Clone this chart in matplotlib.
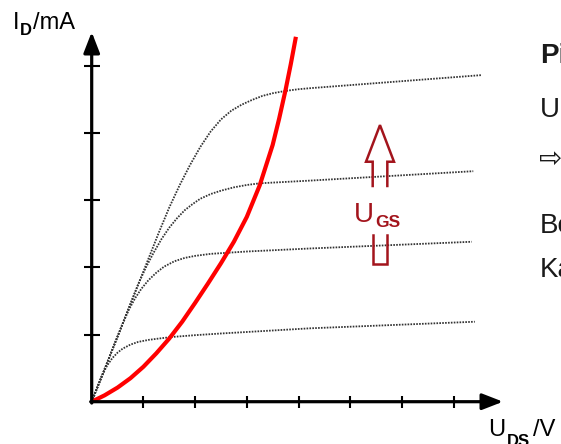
import matplotlib
matplotlib.use("Agg")
import matplotlib.pyplot as plt

plt.rcParams['font.family'] = ['Liberation Sans', 'DejaVu Sans']

# ---- data (axis units = tick steps) ----
x_ticks = [1, 2, 3, 4, 5, 6, 7]
y_ticks = [1, 2, 3, 4, 5]

curve1_x = [0, 1.30, 1.50, 1.70, 1.90, 2.10, 2.30, 2.50, 2.70, 2.90, 3.10, 3.30, 3.50, 3.75, 4.00, 4.25, 7.54]
curve1_y = [0, 2.52, 2.89, 3.22, 3.52, 3.79, 4.02, 4.20, 4.33, 4.42, 4.49, 4.55, 4.59, 4.625, 4.65, 4.667, 4.86]

curve2_x = [0, 0.90, 1.05, 1.20, 1.35, 1.50, 1.65, 1.80, 1.95, 2.10, 2.30, 2.50, 2.75, 3.00, 3.25, 4.22, 7.38]
curve2_y = [0, 1.75, 2.00, 2.22, 2.42, 2.59, 2.73, 2.85, 2.94, 3.02, 3.09, 3.14, 3.19, 3.225, 3.25, 3.29, 3.43]

curve3_x = [0, 0.60, 0.72, 0.84, 0.96, 1.10, 1.25, 1.40, 1.60, 1.80, 2.00, 2.30, 2.60, 3.00, 4.22, 7.35]
curve3_y = [0, 1.16, 1.37, 1.54, 1.68, 1.81, 1.92, 2.01, 2.09, 2.14, 2.17, 2.20, 2.215, 2.235, 2.28, 2.38]

curve4_x = [0, 0.20, 0.30, 0.40, 0.50, 0.60, 0.75, 0.90, 1.10, 1.30, 1.55, 2.00, 2.50, 3.06, 4.22, 7.41]
curve4_y = [0, 0.39, 0.54, 0.65, 0.73, 0.79, 0.85, 0.89, 0.92, 0.94, 0.963, 0.99, 1.015, 1.04, 1.092, 1.19]

red_x = [0, 0.25, 0.50, 0.75, 1.00, 1.25, 1.50, 1.75, 2.00, 2.25, 2.50, 2.75, 3.00, 3.25, 3.50, 3.625, 3.75, 3.85, 3.95]
red_y = [0, 0.095, 0.21, 0.35, 0.52, 0.72, 0.94, 1.19, 1.47, 1.76, 2.06, 2.38, 2.75, 3.22, 3.82, 4.21, 4.64, 5.02, 5.43]

W, H = 561, 444
X0, Y0 = 91.7, 401.7      # origin in pixels
SX, SY = 51.7, 67.2       # pixels per unit

fig = plt.figure(figsize=(W / 100, H / 100), dpi=100)
ax = fig.add_axes([0, 0, 1, 1])
ax.set_xlim(-X0 / SX, (W - X0) / SX)
ax.set_ylim((Y0 - H) / SY, Y0 / SY)
ax.axis('off')

dot_style = dict(color='#333333', lw=1.3, linestyle=(0, (0.9, 0.7)))
for cx, cy in [(curve1_x, curve1_y), (curve2_x, curve2_y),
               (curve3_x, curve3_y), (curve4_x, curve4_y)]:
    ax.plot(cx, cy, **dot_style, zorder=2)

ax.plot(red_x, red_y, color='#FF0000', lw=3.0, solid_capstyle='butt',
        solid_joinstyle='round', zorder=3)

# axes with arrows
x_end = (503 - X0) / SX
y_end = (Y0 - 32) / SY
arrow_kw = dict(arrowstyle='-|>,head_length=0.9,head_width=0.35', color='black',
                lw=2.3, shrinkA=0, shrinkB=0, mutation_scale=14)
ax.annotate('', xy=(x_end, 0), xytext=(-0.02, 0), arrowprops=arrow_kw, zorder=4)
ax.annotate('', xy=(0, y_end), xytext=(0, -0.02), arrowprops=arrow_kw, zorder=4)
ax.plot(x_ticks, [0] * len(x_ticks), linestyle='none', marker='|', ms=9, mew=1.5,
        color='black', zorder=4)
ax.plot([0] * len(y_ticks), y_ticks, linestyle='none', marker='_', ms=11, mew=1.5,
        color='black', zorder=4)


def ptext(px, py, s, size, bold=False, color='black', **kw):
    ax.text(px / W, 1 - py / H, s, transform=ax.transAxes, fontsize=size,
            fontweight='bold' if bold else 'normal', va='baseline', ha='left',
            color=color, **kw)


# axis labels
ptext(13, 29, 'I', 17)
ptext(20, 35, 'D', 12, bold=True)
ptext(33, 29, '/mA', 17)
ptext(488, 436, 'U', 17)
ptext(507, 446, 'DS', 12, bold=True)
ptext(533, 436, '/V', 17)

# U_GS outline arrow
dred = '#A3141C'
tip = (5.576, 4.116)
hb = 3.571
hl, hr = 5.306, 5.847
sl, sr = 5.435, 5.718
s_bot = 3.21
ax.plot([sl, sl, hl, tip[0], hr, sr, sr], [s_bot, hb, hb, tip[1], hb, hb, s_bot],
        color=dred, lw=1.8, solid_joinstyle='miter', zorder=5)
ax.plot([sl, sl, sr, sr], [2.481, 2.049, 2.049, 2.481],
        color=dred, lw=1.8, solid_joinstyle='miter', zorder=5)
ptext(354, 221.7, 'U', 20, color=dred)
ptext(375, 226.7, 'GS', 12.5, bold=True, color=dred)

# right-hand slide text (cut off at the figure edge, as in the reference)
tcol = '#1a1a1a'
fs = 20
ptext(540, 63, 'Pi', fs, bold=True, color=tcol)
ptext(540, 117, 'U', fs, color=tcol)
ptext(539, 167, '⇨', fs, color=tcol, family=['DejaVu Sans'])
ptext(540, 233, 'Be', fs, color=tcol)
ptext(540, 277, 'Ka', fs, color=tcol)

fig.savefig('out.png', dpi=100)
